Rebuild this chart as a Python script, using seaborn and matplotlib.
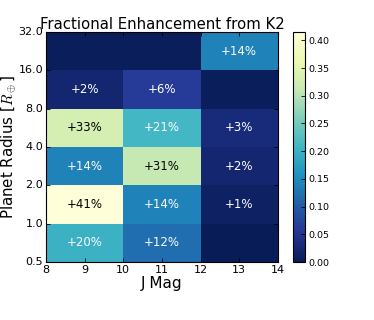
#!/usr/bin/env python3
# Fractional enhancement from K2, binned by J magnitude and planet radius

import numpy as np
import pandas as pd
import seaborn as sns
import matplotlib
import matplotlib.pyplot as plt

matplotlib.use("Agg")

# -----------------------------------------
# Data
# -----------------------------------------
jmag_edges = [8, 10, 12, 14]
radius_edges = [0.5, 1.0, 2.0, 4.0, 8.0, 16.0, 32.0]

# rows: radius bins from largest (16-32) to smallest (0.5-1)
# cols: J mag bins 8-10, 10-12, 12-14
frac_16_32 = [0.003, 0.003, 0.14]
frac_8_16 = [0.02, 0.06, 0.004]
frac_4_8 = [0.33, 0.21, 0.03]
frac_2_4 = [0.14, 0.31, 0.02]
frac_1_2 = [0.412, 0.14, 0.01]
frac_05_1 = [0.20, 0.12, 0.0]

rows = [frac_16_32, frac_8_16, frac_4_8, frac_2_4, frac_1_2, frac_05_1]
row_names = ["16-32", "8-16", "4-8", "2-4", "1-2", "0.5-1"]
col_names = ["8-10", "10-12", "12-14"]

df = pd.DataFrame(rows, index=row_names, columns=col_names)
labels = df.map(lambda v: f"+{v * 100:.0f}%" if round(v * 100) >= 1 else "")

# -----------------------------------------
# Plot
# -----------------------------------------
plt.rcParams["mathtext.fontset"] = "cm"
fig = plt.figure(figsize=(3.74, 3.2), dpi=100)
ax = fig.add_axes([0.123, 0.181, 0.620, 0.719])
cax = fig.add_axes([0.783, 0.181, 0.033, 0.719])

sns.heatmap(
    df,
    ax=ax,
    cbar_ax=cax,
    cmap="YlGnBu_r",
    vmin=0,
    vmax=0.415,
    annot=labels,
    fmt="",
    annot_kws={"fontsize": 8.5},
)

for t in ax.texts:
    if t.get_color() != "w":
        t.set_color("black")

# x ticks: J mag, linear inside the three bins
nx = len(jmag_edges) - 1
xt = np.arange(0, nx + 0.01, 0.5)
ax.set_xticks(xt)
ax.set_xticklabels([f"{jmag_edges[0] + (jmag_edges[-1] - jmag_edges[0]) * x / nx:.0f}" for x in xt],
                   rotation=0, fontsize=8)

# y ticks: radius bin edges (equal log spacing)
ny = len(radius_edges) - 1
ax.set_yticks(np.arange(ny + 1))
ax.set_yticklabels([f"{r:.1f}" for r in radius_edges[::-1]], rotation=0, fontsize=8)

ax.tick_params(direction="in", top=True, right=True, length=3, width=0.6, pad=2)
for s in ax.spines.values():
    s.set_visible(True)
    s.set_linewidth(0.8)
    s.set_color("black")

ax.set_title("Fractional Enhancement from K2", fontsize=10.7, pad=2)
ax.set_xlabel("J Mag", fontsize=11, labelpad=1)
ax.set_ylabel(r"Planet Radius [$R_\oplus$]", fontsize=10.8, labelpad=0)

cbar = ax.collections[0].colorbar
cbar.outline.set_linewidth(0.8)
cbar.outline.set_edgecolor("black")
cbar.set_ticks(np.arange(0, 0.41, 0.05))
cbar.ax.tick_params(direction="in", labelsize=6.8, length=3, width=0.6, pad=2)

plt.savefig("out.png", dpi=100)
plt.close()
